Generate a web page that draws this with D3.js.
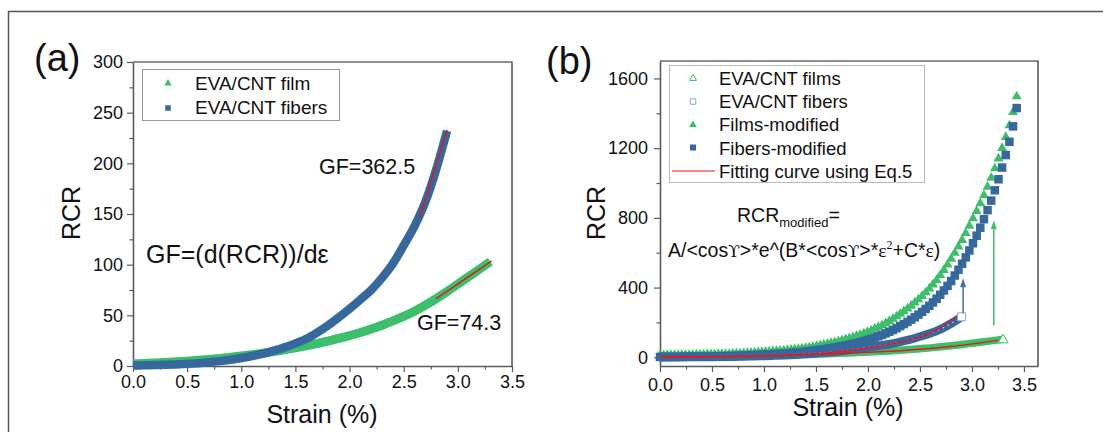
<!DOCTYPE html>
<html><head><meta charset="utf-8">
<script src="https://cdn.jsdelivr.net/npm/d3@7"></script>
<style>
body{margin:0;background:#fff}
svg{display:block}
text{font-family:"Liberation Sans",Arial,sans-serif;fill:#111}
</style>
</head><body>
<svg id="c" width="1103" height="432"></svg>
<script>
// ---------------- DATA ----------------
// Panel (a) & raw curves in (b): EVA/CNT film (strain %, RCR)
const filmX = [0,0.1,0.2,0.3,0.4,0.5,0.6,0.7,0.8,0.9,1.0,1.1,1.2,1.3,1.4,1.5,1.6,1.7,1.8,1.9,2.0,2.1,2.2,2.3,2.4,2.5,2.6,2.7,2.8,2.9,3.0,3.1,3.2,3.3];
const filmY = [2.0,2.4,2.9,3.5,4.1,4.8,5.6,6.5,7.5,8.6,9.8,11.1,12.6,14.2,16.0,17.9,20.0,22.2,24.6,27.2,30.0,33.0,36.5,40.3,44.5,49.0,54.0,60.0,66.5,73.5,80.8,88.2,95.6,103.0];
// EVA/CNT fibers
const fiberX = [0,0.1,0.2,0.3,0.4,0.5,0.6,0.7,0.8,0.9,1.0,1.1,1.2,1.3,1.4,1.5,1.6,1.7,1.8,1.9,2.0,2.1,2.2,2.3,2.4,2.5,2.6,2.7,2.8,2.9];
const fiberY = [0.5,0.7,0.9,1.2,1.6,2.1,2.8,3.7,4.8,6.2,7.9,9.9,12.3,15.1,18.4,22.3,26.9,33.0,40.0,48.0,56.5,65.5,75.0,87.0,101.0,119.0,138.0,162.0,194.0,232.0];
// linear GF fits in (a)
const fitFiberAX = [2.65,2.9], fitFiberAY = [147,233];
const fitFilmAX = [2.8,3.31], fitFilmAY = [66.5,103.5];

// Panel (b): modified series
const modX = [0,0.035,0.07,0.105,0.14,0.175,0.21,0.245,0.28,0.315,0.35,0.385,0.42,0.455,0.49,0.525,0.56,0.595,0.63,0.665,0.7,0.735,0.77,0.805,0.84,0.875,0.91,0.945,0.98,1.015,1.05,1.085,1.12,1.155,1.19,1.225,1.26,1.295,1.33,1.365,1.4,1.435,1.47,1.505,1.54,1.575,1.61,1.645,1.68,1.715,1.75,1.785,1.82,1.855,1.89,1.925,1.96,1.995,2.03,2.065,2.1,2.135,2.17,2.205,2.24,2.275,2.31,2.345,2.38,2.415,2.45,2.485,2.52,2.555,2.59,2.625,2.66,2.695,2.73,2.765,2.8,2.835,2.87,2.905,2.94,2.975,3.01,3.045,3.08,3.115,3.15,3.185,3.22,3.255,3.29,3.325,3.36,3.395,3.43];
const filmModY = [15.0,15.4,15.7,16.0,16.4,16.7,17.1,17.5,17.8,18.2,
18.6,19.0,19.4,19.9,20.3,20.7,21.2,21.6,22.1,22.6,
23.1,24.1,25.2,26.3,27.5,28.7,30.0,31.4,32.8,34.2,
35.7,37.3,39.0,40.7,42.6,44.4,46.4,48.5,50.6,53.3,
56.5,59.9,63.5,67.3,71.4,75.7,80.2,85.0,90.0,95.1,
100.5,106.1,112.1,118.4,125.0,132.1,139.5,147.5,156.5,166.2,
176.3,187.2,198.7,210.9,223.8,237.5,252.2,267.0,282.6,299.1,
316.7,335.2,354.5,375.3,397.3,420.6,446.5,474.2,503.9,535.1,
568.2,603.2,639.0,675.8,715.4,757.3,800.0,842.0,886.2,932.6,
981.4,1032.8,1086.9,1143.9,1203.8,1266.9,1333.4,1410,1500];
const fiberModY = [2.0,2.1,2.3,2.5,2.7,2.9,3.1,3.3,3.5,3.7,
4.0,4.2,4.5,4.8,5.0,5.4,5.8,6.2,6.7,7.1,
7.6,8.3,9.0,9.8,10.6,11.5,12.4,13.4,14.5,15.5,
16.6,17.7,19.0,20.2,21.6,23.0,24.5,26.1,27.8,29.8,
32.2,34.8,37.5,40.4,43.2,46.2,49.4,52.7,56.3,59.9,
63.8,67.9,72.3,76.9,81.8,87.1,92.7,98.7,105.4,112.7,
120.3,128.6,137.4,146.7,156.7,167.3,178.8,190.4,202.8,215.9,
230.0,244.9,260.6,277.5,295.5,314.7,336.0,358.9,383.6,409.7,
437.5,469.2,502.1,536.3,573.4,613.0,654.4,697.6,743.5,792.2,
844.0,899.0,958.1,1021.4,1088.6,1160.2,1236.3,1325,1430];
// Eq.5 fitting curves in (b)
const fitFilmBX = [0,0.4,0.8,1.2,1.6,2.0,2.4,2.8,3.25];
const fitFilmBY = [1,3.5,6.8,11.5,18.5,28,42,62,97];
const fitFiberBX = [0,0.4,0.8,1.2,1.6,2.0,2.2,2.4,2.6,2.84];
const fitFiberBY = [0,1.5,4.5,11,25,53,74,100,138,227];
// arrows in (b): strain, from RCR, to RCR
const arrowX = [2.915,3.21], arrowFrom = [252,183], arrowTo = [453,786];

// ticks
const xMajor = [0,0.5,1.0,1.5,2.0,2.5,3.0,3.5];
const xMinor = [0.25,0.75,1.25,1.75,2.25,2.75,3.25];
const yMajorA = [0,50,100,150,200,250,300];
const yMinorA = [25,75,125,175,225,275];
const yMajorB = [0,400,800,1200,1600];
const yMinorB = [200,600,1000,1400];

// ---------------- DRAW ----------------
const GREEN='#3cbf6b', BLUE='#35689c', RED='#e8141c', AX='#5a5a5a';
const svg = d3.select('#c');
const zip = (xs,ys)=>xs.map((x,i)=>[x,ys[i]]);

// outer frame
svg.append('path').attr('d','M8.5,432V11.5H1103').attr('fill','none').attr('stroke','#555').attr('stroke-width',1.5);

function triPath(cx,cy,w){const h=w*0.87;return `M${cx},${cy-h*0.6}L${cx+w/2},${cy+h*0.4}L${cx-w/2},${cy+h*0.4}Z`;}
function sqPath(cx,cy,s){return `M${cx-s/2},${cy-s/2}h${s}v${s}h${-s}Z`;}

function drawAxes(x,y,yMaj,yMin,xPad,yPad){
  const [x0,x1]=x.range(), [y0,y1]=y.range();
  svg.append('path').attr('d',`M${x0},${y1}H${x1}V${y0}`).attr('fill','none').attr('stroke','#222').attr('stroke-width',1.2);
  svg.append('g').attr('transform',`translate(0,${y0})`)
    .call(d3.axisBottom(x).tickValues(xMajor).tickSize(6).tickSizeOuter(0).tickPadding(xPad).tickFormat(d3.format('.1f')));
  svg.append('g').attr('transform',`translate(0,${y0})`)
    .call(d3.axisBottom(x).tickValues(xMinor).tickSize(3.5).tickSizeOuter(0).tickFormat(''))
    .call(g=>g.select('.domain').remove());
  svg.append('g').attr('transform',`translate(${x0},0)`)
    .call(d3.axisLeft(y).tickValues(yMaj).tickSize(6).tickSizeOuter(0).tickPadding(yPad).tickFormat(d3.format('d')));
  svg.append('g').attr('transform',`translate(${x0},0)`)
    .call(d3.axisLeft(y).tickValues(yMin).tickSize(3.5).tickSizeOuter(0).tickFormat(''))
    .call(g=>g.select('.domain').remove());
  svg.selectAll('.domain').attr('stroke',AX).attr('stroke-width',1.6);
  svg.selectAll('.tick line').attr('stroke',AX).attr('stroke-width',1.2);
  svg.selectAll('.tick text').attr('font-size',18).attr('font-family','"Liberation Sans",Arial,sans-serif').attr('fill','#111');
}

// ---- Panel (a)
const xA = d3.scaleLinear().domain([0,3.5]).range([133,512]);
const yA = d3.scaleLinear().domain([0,300]).range([366,62]);
drawAxes(xA,yA,yMajorA,yMinorA,3.5,4);

const lineA = d3.line().x(d=>xA(d[0])).y(d=>yA(d[1])).curve(d3.curveMonotoneX);
svg.append('path').attr('d',lineA(zip(filmX,filmY))).attr('fill','none').attr('stroke',GREEN).attr('stroke-width',9).attr('stroke-linejoin','round');
svg.append('path').attr('d',lineA(zip(fiberX,fiberY))).attr('fill','none').attr('stroke',BLUE).attr('stroke-width',8.5).attr('stroke-linejoin','round');
svg.append('path').attr('d',lineA(zip(fitFiberAX,fitFiberAY))).attr('fill','none').attr('stroke',RED).attr('stroke-width',1.4);
svg.append('path').attr('d',lineA(zip(fitFilmAX,fitFilmAY))).attr('fill','none').attr('stroke',RED).attr('stroke-width',1.4);

// legend (a)
svg.append('rect').attr('x',142.5).attr('y',69.5).attr('width',197).attr('height',51).attr('fill','#fff').attr('stroke','#999').attr('stroke-width',1);
svg.append('path').attr('d',triPath(168,83,7.5)).attr('fill',GREEN);
svg.append('path').attr('d',sqPath(168,108,5.5)).attr('fill',BLUE);
svg.append('text').attr('x',195).attr('y',90).attr('font-size',19).text('EVA/CNT film');
svg.append('text').attr('x',195).attr('y',114).attr('font-size',19).text('EVA/CNT fibers');

svg.append('text').attr('x',34).attr('y',71).attr('font-size',38).text('(a)');
svg.append('text').attr('transform','translate(80,213) rotate(-90)').attr('text-anchor','middle').attr('font-size',25).text('RCR');
svg.append('text').attr('x',322).attr('y',423).attr('text-anchor','middle').attr('font-size',25).text('Strain (%)');
svg.append('text').attr('x',319).attr('y',174).attr('font-size',21.5).text('GF=362.5');
svg.append('text').attr('x',146).attr('y',263).attr('font-size',25).text('GF=(d(RCR))/dε');
svg.append('text').attr('x',417).attr('y',330).attr('font-size',21.5).text('GF=74.3');

// ---- Panel (b)
const xB = d3.scaleLinear().domain([0,3.635]).range([660,1038]);
const yB = d3.scaleLinear().domain([-50,1700]).range([366,61]);
drawAxes(xB,yB,yMajorB,yMinorB,6,6);
const lineB = d3.line().x(d=>xB(d[0])).y(d=>yB(d[1])).curve(d3.curveMonotoneX);

// raw film band
svg.append('path').attr('d',lineB(zip(filmX,filmY))).attr('fill','none').attr('stroke',GREEN).attr('stroke-width',7.5).attr('stroke-linejoin','round');
// modified series
svg.append('g').selectAll('path').data(zip(modX,filmModY)).join('path')
  .attr('d',d=>triPath(xB(d[0]),yB(d[1]),10)).attr('fill',GREEN);
svg.append('g').selectAll('path').data(zip(modX,fiberModY)).join('path')
  .attr('d',d=>sqPath(xB(d[0]),yB(d[1]),8.5)).attr('fill',BLUE);
// raw fiber band (open squares, dense)
svg.append('path').attr('d',lineB(zip(fiberX,fiberY))).attr('fill','none').attr('stroke',BLUE).attr('stroke-width',8.5).attr('stroke-linejoin','round');
svg.append('path').attr('d',lineB(zip(fiberX,fiberY))).attr('fill','none').attr('stroke','#d5e0ee').attr('stroke-width',1.2).attr('stroke-dasharray','1.5 4').attr('opacity',0.9);
// end open markers of raw series
svg.append('path').attr('d',triPath(xB(filmX[filmX.length-1]),yB(filmY[filmY.length-1]),10)).attr('fill','#fff').attr('stroke',GREEN).attr('stroke-width',1);
svg.append('path').attr('d',sqPath(xB(fiberX[fiberX.length-1]),yB(fiberY[fiberY.length-1]),8)).attr('fill','#fff').attr('stroke','#8ea6c8').attr('stroke-width',1);
// fits
svg.append('path').attr('d',lineB(zip(fitFilmBX,fitFilmBY))).attr('fill','none').attr('stroke',RED).attr('stroke-width',1.4);
svg.append('path').attr('d',lineB(zip(fitFiberBX,fitFiberBY))).attr('fill','none').attr('stroke',RED).attr('stroke-width',1.4);

// arrows
arrowX.forEach((ax,i)=>{
  const c = i===0?'#3e6fa8':GREEN;
  const px=xB(ax), pa=yB(arrowFrom[i]), pb=yB(arrowTo[i]);
  svg.append('line').attr('x1',px).attr('x2',px).attr('y1',pa).attr('y2',pb+6).attr('stroke',c).attr('stroke-width',1.5);
  svg.append('path').attr('d',`M${px},${pb}L${px+3},${pb+9}L${px-3},${pb+9}Z`).attr('fill',c);
});

// legend (b)
svg.append('rect').attr('x',669.5).attr('y',65.5).attr('width',255).attr('height',117).attr('fill','#fff').attr('stroke','#bbb').attr('stroke-width',1);
svg.append('path').attr('d',triPath(693,78,7)).attr('fill','#fff').attr('stroke',GREEN).attr('stroke-width',1);
svg.append('path').attr('d',sqPath(693,101.5,5.5)).attr('fill','#fff').attr('stroke','#8ea6c8').attr('stroke-width',1);
svg.append('path').attr('d',triPath(693,124.5,7.5)).attr('fill',GREEN);
svg.append('path').attr('d',sqPath(693,147.5,6)).attr('fill',BLUE);
svg.append('line').attr('x1',672).attr('x2',715).attr('y1',171).attr('y2',171).attr('stroke',RED).attr('stroke-width',1.2);
const legB = ['EVA/CNT films','EVA/CNT fibers','Films-modified','Fibers-modified','Fitting curve using Eq.5'];
legB.forEach((t,i)=>svg.append('text').attr('x',719).attr('y',85+i*23.2).attr('font-size',18.5).text(t));

svg.append('text').attr('x',546).attr('y',74).attr('font-size',38).text('(b)');
svg.append('text').attr('transform','translate(605,213) rotate(-90)').attr('text-anchor','middle').attr('font-size',25).text('RCR');
svg.append('text').attr('x',848).attr('y',416).attr('text-anchor','middle').attr('font-size',25).text('Strain (%)');

const t1 = svg.append('text').attr('x',737).attr('y',222).attr('font-size',19.5);
t1.append('tspan').text('RCR');
t1.append('tspan').attr('font-size',13).attr('dy',5).text('modified');
t1.append('tspan').attr('dy',-5).text('=');

const SERIF='"DejaVu Serif","Liberation Serif",serif', TIMES='"Liberation Serif","DejaVu Serif",serif';
const t2 = svg.append('text').attr('x',668).attr('y',257).attr('font-size',19.5);
t2.append('tspan').text('A/<cos');
t2.append('tspan').attr('font-family',SERIF).attr('font-size',17).text('ϒ');
t2.append('tspan').text('>*e^(B*<cos');
t2.append('tspan').attr('font-family',SERIF).attr('font-size',17).text('ϒ');
t2.append('tspan').text('>*');
t2.append('tspan').attr('font-family',TIMES).text('ε');
t2.append('tspan').attr('font-family',TIMES).attr('font-size',12).attr('dy',-8).text('2');
t2.append('tspan').attr('dy',8).text('+C*');
t2.append('tspan').attr('font-family',TIMES).text('ε');
t2.append('tspan').text(')');
</script>
</body></html>
